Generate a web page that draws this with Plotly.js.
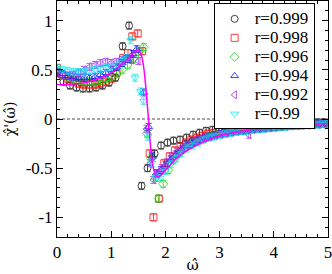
<!DOCTYPE html>
<html><head><meta charset="utf-8">
<script src="https://cdn.plot.ly/plotly-3.0.1.min.js"></script>
<style>html,body{margin:0;padding:0;background:#fff}#chart{width:332px;height:274px}</style>
</head><body><div id="chart"></div>
<script>
const seriesNames = ['r=0.999','r=0.998','r=0.996','r=0.994','r=0.992','r=0.99'];

const omega999 = [0.00,0.12,0.24,0.36,0.48,0.60,0.72,0.84,0.96,1.08,1.21,1.33,1.56,1.67,1.80,1.92,2.04,2.15,2.27,2.39,2.51,2.63,2.75,2.87,2.99,3.11,3.23,3.35,3.47,3.59,3.71,3.83,3.95,4.07,4.19,4.31,4.43,4.55,4.67,4.79,4.91];
const chi999 = [0.47,0.38,0.34,0.32,0.31,0.31,0.32,0.34,0.37,0.42,0.74,0.95,-0.68,-0.50,-0.35,-0.27,-0.24,-0.22,-0.21,-0.19,-0.16,-0.14,-0.12,-0.11,-0.10,-0.09,-0.09,-0.08,-0.075,-0.07,-0.065,-0.06,-0.06,-0.055,-0.05,-0.05,-0.045,-0.04,-0.04,-0.035,-0.035];

const omega998 = [0.0,0.1,0.2,0.3,0.4,0.5,0.6,0.7,0.8,0.9,1.0,1.1,1.22,1.31,1.39,1.49,1.57,1.71,1.78,1.88,1.98,2.08,2.18,2.28,2.38,2.48,2.58,2.68,2.78,2.88,2.98,3.1,3.2,3.3,3.4,3.5,3.6,3.7,3.8,3.9,4.0,4.1,4.2,4.3,4.4,4.5,4.6,4.7,4.8,4.9,5.0];
const chi998 = [0.52,0.45,0.41,0.38,0.36,0.35,0.35,0.35,0.36,0.38,0.41,0.47,0.62,0.67,0.84,0.87,0.69,-0.35,-1.0,-0.81,-0.45,-0.38,-0.32,-0.28,-0.24,-0.21,-0.19,-0.17,-0.15,-0.14,-0.13,-0.12,-0.11,-0.10,-0.095,-0.09,-0.085,-0.08,-0.075,-0.07,-0.065,-0.062,-0.058,-0.055,-0.052,-0.05,-0.047,-0.045,-0.042,-0.04,-0.038];

const omega996 = [0.0,0.1,0.2,0.3,0.4,0.5,0.6,0.7,0.8,0.9,1.0,1.1,1.2,1.3,1.4,1.5,1.6,1.66,1.74,1.81,1.88,1.96,2.05,2.15,2.25,2.35,2.45,2.55,2.65,2.75,2.85,2.95,3.05,3.15,3.25,3.35,3.45,3.55,3.65,3.75,3.85,3.95,4.05,4.15,4.25,4.35,4.45,4.55,4.65,4.75,4.85,4.95];
const chi996 = [0.50,0.45,0.42,0.40,0.39,0.38,0.38,0.38,0.39,0.41,0.43,0.46,0.50,0.55,0.61,0.68,0.73,-0.15,-0.40,-0.60,-0.81,-0.66,-0.52,-0.42,-0.35,-0.30,-0.26,-0.23,-0.21,-0.19,-0.17,-0.16,-0.15,-0.14,-0.13,-0.12,-0.115,-0.11,-0.10,-0.095,-0.09,-0.085,-0.08,-0.075,-0.07,-0.068,-0.065,-0.062,-0.058,-0.055,-0.052,-0.05];

const omega994 = [0.0,0.1,0.2,0.3,0.4,0.5,0.6,0.7,0.8,0.9,1.0,1.1,1.2,1.3,1.4,1.47,1.6,1.69,1.76,1.84,1.92,2.0,2.1,2.2,2.3,2.4,2.5,2.6,2.7,2.8,2.9,3.0,3.1,3.2,3.3,3.4,3.5,3.6,3.7,3.8,3.9,4.0,4.1,4.2,4.3,4.4,4.5,4.6,4.7,4.8,4.9,5.0];
const chi994 = [0.48,0.46,0.44,0.43,0.42,0.42,0.42,0.43,0.45,0.47,0.50,0.53,0.57,0.61,0.66,0.71,0.27,-0.08,-0.38,-0.55,-0.52,-0.47,-0.41,-0.36,-0.31,-0.27,-0.24,-0.22,-0.20,-0.18,-0.165,-0.15,-0.14,-0.13,-0.12,-0.115,-0.11,-0.10,-0.095,-0.09,-0.085,-0.08,-0.075,-0.07,-0.067,-0.064,-0.06,-0.057,-0.054,-0.051,-0.048,-0.045];

const omega992 = [0.0,0.1,0.2,0.3,0.4,0.5,0.6,0.7,0.8,0.9,1.0,1.1,1.2,1.3,1.38,1.5,1.65,1.72,1.78,1.85,1.93,2.02,2.12,2.22,2.32,2.42,2.52,2.62,2.72,2.82,2.92,3.02,3.12,3.22,3.32,3.42,3.54,3.62,3.72,3.82,3.92,4.02,4.12,4.22,4.32,4.42,4.52,4.62,4.72,4.82,4.92];
const chi992 = [0.46,0.44,0.44,0.45,0.47,0.50,0.53,0.55,0.57,0.58,0.57,0.58,0.60,0.62,0.60,0.59,-0.10,-0.45,-0.62,-0.56,-0.50,-0.44,-0.38,-0.33,-0.29,-0.26,-0.23,-0.21,-0.19,-0.18,-0.165,-0.155,-0.145,-0.135,-0.125,-0.12,-0.16,-0.105,-0.10,-0.095,-0.09,-0.085,-0.08,-0.075,-0.07,-0.068,-0.065,-0.062,-0.058,-0.055,-0.052];

const omega990 = [0.0,0.1,0.2,0.3,0.4,0.5,0.6,0.7,0.8,0.9,1.0,1.1,1.2,1.28,1.36,1.44,1.54,1.6,1.68,1.75,1.83,1.9,2.0,2.1,2.2,2.3,2.4,2.5,2.6,2.7,2.8,2.9,3.0,3.1,3.2,3.3,3.4,3.5,3.6,3.7,3.8,3.9,4.0,4.1,4.2,4.3,4.4,4.5,4.6,4.7,4.8,4.9,5.0];
const chi990 = [0.52,0.50,0.49,0.48,0.48,0.48,0.49,0.50,0.51,0.52,0.53,0.55,0.58,0.62,0.80,0.42,0.28,0.18,-0.18,-0.45,-0.60,-0.60,-0.53,-0.46,-0.40,-0.35,-0.30,-0.27,-0.24,-0.21,-0.19,-0.18,-0.165,-0.15,-0.14,-0.13,-0.125,-0.12,-0.11,-0.105,-0.10,-0.095,-0.09,-0.085,-0.08,-0.075,-0.07,-0.067,-0.063,-0.06,-0.057,-0.054,-0.05];

const omegaFit = [0,0.2,0.4,0.6,0.8,1.0,1.2,1.3,1.4,1.47,1.52,1.57,1.61,1.65,1.68,1.71,1.74,1.77,1.81,1.86,1.92,2.0,2.1,2.2,2.4,2.6,2.8,3.0,3.25,3.5,3.75,4.0,4.5,5.0];
const chiFit = [0.35,0.35,0.36,0.38,0.42,0.47,0.56,0.61,0.67,0.70,0.69,0.62,0.48,0.25,0.05,-0.17,-0.36,-0.48,-0.56,-0.59,-0.57,-0.52,-0.46,-0.40,-0.32,-0.26,-0.21,-0.17,-0.14,-0.115,-0.095,-0.08,-0.06,-0.045];

const xTicks = [0,1,2,3,4,5];
const yTickVals = [-1,-0.5,0,0.5,1];
const yTickText = ['-1','-0.5','0','0.5','1'];

const xs = [omega999,omega998,omega996,omega994,omega992,omega990];
const ys = [chi999,chi998,chi996,chi994,chi992,chi990];
const colors = ['#000000','#ff0000','#00dd00','#0000ff','#a020f0','#00e5ee'];
const symbols = ['circle-open','square-open','diamond-open','triangle-up-open','triangle-left-open','triangle-down-open'];

const traces = xs.map((x,i)=>({
  x: x, y: ys[i], type:'scatter', mode:'markers',
  name: '<span style="font-size:17px">'+seriesNames[i]+'</span>',
  marker:{symbol:symbols[i], size:7, color:colors[i], line:{width:1,color:colors[i]}},
  opacity:0.75,
  error_y:{type:'constant', value:0.035, thickness:1, width:3, color:colors[i]}
}));
traces.push({x:omegaFit, y:chiFit, type:'scatter', mode:'lines', line:{color:'#ff00ff', width:1.5, shape:'spline'}, showlegend:false});

const serif = '"Liberation Serif", "Times New Roman", serif';
const titleFont = '"DejaVu Serif", serif';
const layout = {
  width:332, height:274,
  margin:{l:57, r:4, t:1, b:37},
  paper_bgcolor:'#fff', plot_bgcolor:'#fff',
  font:{family:serif, size:16, color:'#000'},
  showlegend:true,
  legend:{x:0.578, xanchor:'left', y:0.99, yanchor:'top', bgcolor:'#fff', bordercolor:'#000', borderwidth:1,
    font:{family:serif, size:12, color:'#000'}, itemwidth:30, tracegroupgap:0},
  xaxis:{range:[0,5], tickmode:'array', tickvals:xTicks, ticks:'inside', ticklen:6, tickwidth:1, tickcolor:'#000',
    showline:true, linecolor:'#000', linewidth:1, mirror:'ticks', showgrid:false, zeroline:false,
    ticklabeloverflow:'allow',
    minor:{dtick:0.2, tick0:0, ticks:'inside', ticklen:3, tickcolor:'#000'},
    tickfont:{family:serif, size:17},
    title:{text:'ω̂', font:{family:titleFont, size:15}, standoff:5}},
  yaxis:{range:[-1.2,1.2], tickmode:'array', tickvals:yTickVals, ticktext:yTickText, ticks:'inside', ticklen:6, tickwidth:1, tickcolor:'#000',
    showline:true, linecolor:'#000', linewidth:1, mirror:'ticks', showgrid:false, zeroline:false,
    minor:{dtick:0.1, tick0:0, ticks:'inside', ticklen:3, tickcolor:'#000'},
    tickfont:{family:serif, size:17},
    title:{text:"χ̂'(ω̂)", font:{family:titleFont, size:14}, standoff:6}},
  shapes:[{type:'line', xref:'paper', x0:0, x1:1, yref:'y', y0:0, y1:0, line:{color:'#000', width:0.7, dash:'3px,2px'}, layer:'below'}]
};
Plotly.newPlot('chart', traces, layout, {staticPlot:true, displayModeBar:false});
</script></body></html>
